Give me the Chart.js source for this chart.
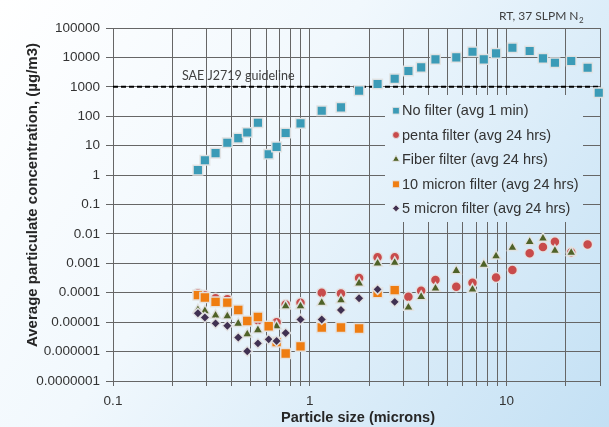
<!DOCTYPE html>
<html>
<head>
<meta charset="utf-8">
<script src="https://cdn.jsdelivr.net/npm/chart.js@4.4.0/dist/chart.umd.min.js"></script>
<style>
  html, body { margin: 0; padding: 0; background: #ffffff; }
  #wrap { width: 609px; height: 427px; }
</style>
</head>
<body>
<div id="wrap"><canvas id="psd" width="609" height="427"></canvas></div>
<script>
// particle size bins (microns), shared by every series
const sizes = [0.27, 0.293, 0.332, 0.381, 0.433, 0.481, 0.545, 0.618, 0.678, 0.754,
               0.897, 1.15, 1.44, 1.78, 2.21, 2.70, 3.17, 3.68, 4.35, 5.55,
               6.71, 7.66, 8.84, 10.7, 13.1, 15.3, 17.6, 21.3, 25.8, 29.4];

// concentrations (ug/m3), null where no marker is shown
const noFilter = [1.48, 3.2, 5.6, 12.6, 18, 28, 60, 5.1, 9.1, 27,
                  57, 154, 200, 740, 1245, 1890, 3450, 4600, 8600, 10070,
                  15600, 8600, 13750, 21400, 16500, 9300, 6600, 7550, 4470, 630];
const penta = [9.5e-5, 8.3e-5, 6.5e-5, 6.0e-5, null, null, 1.17e-5, null, 1.0e-5, 4.0e-5,
               4.6e-5, 1.0e-4, 9.5e-5, 3.2e-4, 1.6e-3, 1.6e-3, 7.3e-5, 1.16e-4, 2.7e-4, 1.6e-4,
               2.2e-4, null, 3.3e-4, 5.9e-4, 2.2e-3, 3.6e-3, 5.4e-3, 2.4e-3, 4.4e-3, null];
const fiber = [2.6e-5, 2.4e-5, 1.7e-5, 1.6e-5, 9e-6, 3.9e-6, 5.4e-6, 6.9e-6, 7.3e-6, 3.5e-5,
               3.5e-5, 4.6e-5, 5.6e-5, 2.1e-4, 1.0e-3, 1.05e-3, 3.2e-5, 7.3e-5, 1.4e-4, 5.6e-4,
               1.3e-4, 9.1e-4, 1.76e-3, 3.4e-3, 5.4e-3, 7.0e-3, 2.7e-3, 2.3e-3, null, null];
const tenMicron = [8.3e-5, 6.9e-5, 4.9e-5, 4.6e-5, 2.6e-5, 1.1e-5, 1.5e-5, 7.3e-6, 2.1e-6, 8.6e-7,
                   1.5e-6, 6.6e-6, 6.6e-6, 6.1e-6, 1.0e-4, 1.23e-4, null, null, null, null,
                   null, null, null, null, null, null, null, null, null, null];
const fiveMicron = [2.0e-5, 1.45e-5, 9.1e-6, 7.6e-6, 3.0e-6, 1.03e-6, 1.9e-6, 2.6e-6, 2.3e-6, 4.3e-6,
                    1.24e-5, 1.24e-5, 2.6e-5, 6.5e-5, 1.3e-4, 4.9e-5, null, null, null, null,
                    null, null, null, null, null, null, null, null, null, null];

// SAE J2719 guideline level
const guidelineX = [0.1, 30];
const guidelineY = [1000, 1000];

const seriesNames = ['No filter (avg 1 min)', 'penta filter (avg 24 hrs)', 'Fiber filter (avg 24 hrs)',
                     '10 micron filter (avg 24 hrs)', '5 micron filter (avg 24 hrs)'];

// axis ticks
const xGridValues = [0.1, 0.2, 0.3, 0.4, 0.5, 0.6, 0.7, 0.8, 0.9,
                     1, 2, 3, 4, 5, 6, 7, 8, 9, 10, 20, 30];
const xLabelValues = [0.1, 1, 10];
const yTickValues = [1e-7, 1e-6, 1e-5, 1e-4, 1e-3, 1e-2, 0.1, 1, 10, 100, 1000, 10000, 100000];

const TEXT = '#333333';
const GRID = '#666666';
const EDGE = 'rgba(228,228,228,0.95)';

// pair up sizes with a series, dropping the gaps
function toPoints(values) {
    const pts = [];
    values.forEach((v, i) => {
        if (v !== null) pts.push({ x: sizes[i], y: v });
    });
    return pts;
}

function formatY(v) {
    if (v >= 1) return String(v);
    return v.toFixed(Math.round(-Math.log10(v)));
}

// slide-like background
function paintBg(ctx, x, y, w, h) {
    const g = ctx.createLinearGradient(0, 0, 609, 427);
    g.addColorStop(0, '#ffffff');
    g.addColorStop(0.4, '#f1f8fd');
    g.addColorStop(1, '#c3e0f4');
    ctx.fillStyle = g;
    ctx.fillRect(x, y, w, h);
}

const markerStyles = [
    { pointStyle: 'rect', radius: 6.8, color: '#3b9bb7' },
    { pointStyle: 'circle', radius: 5, color: '#c84b4b' },
    { pointStyle: 'triangle', radius: 5.8, color: '#4f6228' },
    { pointStyle: 'rect', radius: 7, color: '#ef7d11' },
    { pointStyle: 'rectRot', radius: 5, color: '#403152' }
];

const decor = {
    id: 'decor',
    beforeDraw(chart) {
        paintBg(chart.ctx, 0, 0, chart.width, chart.height);
    },
    afterDraw(chart) {
        const ctx = chart.ctx;
        ctx.save();

        // legend box hides the grid behind it
        paintBg(ctx, 385, 95, 198, 127);
        const rows = [110.7, 135, 159.3, 184.3, 208.3];
        ctx.font = '14.5px "Liberation Sans", Arial, sans-serif';
        ctx.textBaseline = 'middle';
        ctx.textAlign = 'left';
        seriesNames.forEach((name, i) => {
            const m = markerStyles[i];
            ctx.fillStyle = m.color;
            ctx.strokeStyle = EDGE;
            ctx.lineWidth = 1;
            Chart.helpers.drawPoint(ctx, {
                pointStyle: m.pointStyle,
                radius: m.radius * 0.7,
                rotation: 0,
                borderWidth: 1
            }, 396, rows[i]);
            ctx.fillStyle = TEXT;
            ctx.fillText(name, 402, rows[i] + 0.5);
        });

        // annotations
        ctx.fillStyle = '#404040';
        ctx.font = '12.5px Lato, "Open Sans", sans-serif';
        ctx.fillText('SAE J2719 guideline', 182, 75.5);
        ctx.font = '12px Lato, "Open Sans", sans-serif';
        const head = 'RT, 37 SLPM N';
        ctx.fillText(head, 499, 16.5);
        const w = ctx.measureText(head).width;
        ctx.font = '8px Lato, "Open Sans", sans-serif';
        ctx.fillText('2', 499 + w + 0.5, 20);

        // axis titles
        ctx.fillStyle = '#262626';
        ctx.font = 'bold 14.5px "Liberation Sans", Arial, sans-serif';
        ctx.textAlign = 'center';
        ctx.fillText('Particle size (microns)', 358, 418);
        ctx.font = 'bold 15px "Liberation Sans", Arial, sans-serif';
        ctx.translate(33, 195);
        ctx.rotate(-Math.PI / 2);
        ctx.fillText('Average particulate concentration, (\u00b5g/m3)', 0, 0);
        ctx.restore();
    }
};

const datasets = [noFilter, penta, fiber, tenMicron, fiveMicron].map((values, i) => ({
    type: 'scatter',
    label: seriesNames[i],
    data: toPoints(values),
    pointStyle: markerStyles[i].pointStyle,
    pointRadius: markerStyles[i].radius,
    pointBackgroundColor: markerStyles[i].color,
    pointBorderColor: EDGE,
    pointBorderWidth: 1.5,
    clip: false,
    // later series sit on top
    order: 5 - i
}));

datasets.push({
    type: 'line',
    label: 'SAE J2719 guideline',
    data: guidelineX.map((x, i) => ({ x, y: guidelineY[i] })),
    borderColor: '#000000',
    borderWidth: 2,
    borderDash: [5, 3],
    pointRadius: 0,
    order: 9
});

new Chart(document.getElementById('psd'), {
    data: { datasets },
    options: {
        responsive: false,
        animation: false,
        devicePixelRatio: 1,
        layout: { padding: { top: 28, right: 6, left: 0, bottom: 0 } },
        plugins: {
            legend: { display: false },
            tooltip: { enabled: false }
        },
        scales: {
            x: {
                type: 'logarithmic',
                min: 0.1,
                max: 30,
                afterBuildTicks: (scale) => {
                    scale.ticks = xGridValues.map(v => ({ value: v }));
                },
                afterFit: (scale) => { scale.height = 46; },
                grid: { color: GRID, lineWidth: 1, tickLength: 5 },
                border: { color: GRID, width: 1 },
                ticks: {
                    autoSkip: false,
                    maxRotation: 0,
                    padding: 7,
                    color: TEXT,
                    font: { family: '"Liberation Sans", Arial, sans-serif', size: 13.5 },
                    callback: (v) => xLabelValues.includes(v) ? String(v) : ''
                }
            },
            y: {
                type: 'logarithmic',
                min: 1e-7,
                max: 1e5,
                afterBuildTicks: (scale) => {
                    scale.ticks = yTickValues.map(v => ({ value: v }));
                },
                afterFit: (scale) => { scale.width = 113; },
                grid: { color: GRID, lineWidth: 1, tickLength: 7 },
                border: { color: GRID, width: 1 },
                ticks: {
                    autoSkip: false,
                    padding: 6,
                    color: TEXT,
                    font: { family: '"Liberation Sans", Arial, sans-serif', size: 13.5 },
                    callback: (v) => formatY(v)
                }
            }
        }
    },
    plugins: [decor]
});
</script>
</body>
</html>
